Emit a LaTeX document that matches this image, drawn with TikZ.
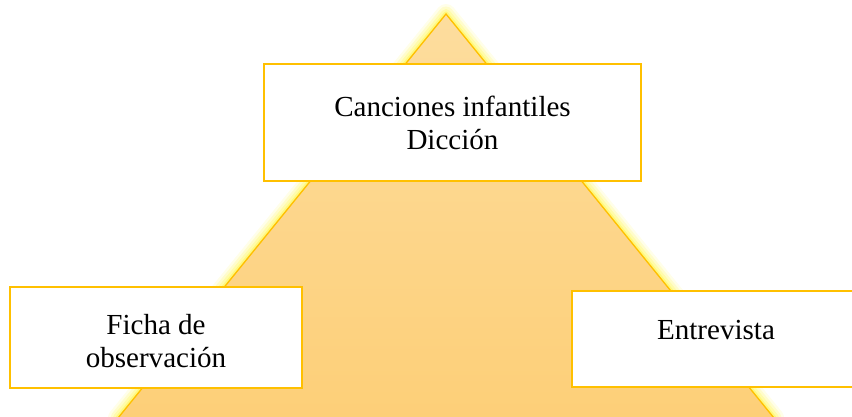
\documentclass[tikz,border=0pt]{standalone}
\usepackage{fontspec}
\setmainfont{Liberation Serif}
\definecolor{boxgold}{RGB}{255,192,0}
\definecolor{glowyellow}{RGB}{255,246,70}
\definecolor{pyrtop}{RGB}{253,221,158}
\definecolor{pyrbottom}{RGB}{253,207,120}

\begin{document}
\begin{tikzpicture}[x=0.75pt,y=-0.75pt,
	textbox/.style={draw=boxgold, line width=1.6pt, fill=white, align=center, inner sep=0pt,
		font=\fontsize{21.8}{24.75}\selectfont}]
	% Fix the page size
	\useasboundingbox (0,0) rectangle (852,417);
	\clip (0,0) rectangle (852,417);

	% Soft glow round the pyramid
	\foreach \w/\o in {20/0.12, 15/0.18, 10/0.25, 5/0.45}
		\draw[glowyellow, line width=\w*0.75pt, line join=round, opacity=\o] (446,14) -- (774,418) -- (118,418) -- cycle;

	% Draw the pyramid
	\draw[boxgold, line width=1pt, top color=pyrtop, bottom color=pyrbottom] (446,14) -- (774,418) -- (118,418) -- cycle;

	% Label boxes
	\node[textbox, minimum width=282.75pt, minimum height=87.75pt] (songs) at (452.5,122.5) {Canciones infantiles\\Dicción}; % top
	\node[textbox, minimum width=219pt, minimum height=75.75pt] (sheet) at (156,337.5) {\rule{0pt}{21pt}Ficha de\\observación}; % left
	\node[textbox, minimum width=216pt, minimum height=72pt, text depth=13.4pt] (interview) at (716,339) {Entrevista}; % right
\end{tikzpicture}
\end{document}
